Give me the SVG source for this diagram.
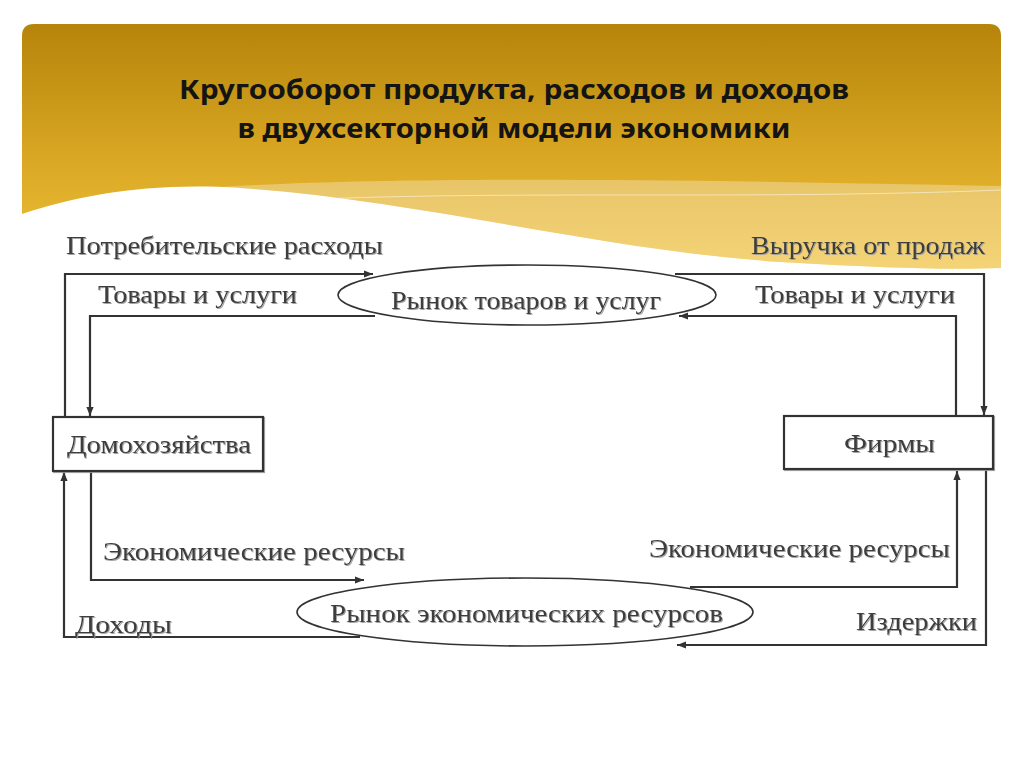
<svg xmlns="http://www.w3.org/2000/svg" width="1024" height="767" viewBox="0 0 1024 767">
<defs>
<linearGradient id="gold" x1="0" y1="0" x2="0" y2="1">
<stop offset="0" stop-color="#b5840a"/>
<stop offset="0.5" stop-color="#d8a622"/>
<stop offset="1" stop-color="#f2c43e"/>
</linearGradient>
<filter id="sh" x="-5%" y="-20%" width="110%" height="140%">
<feDropShadow dx="1" dy="1" stdDeviation="0.6" flood-color="#999" flood-opacity="0.9"/>
</filter>
<marker id="ah" viewBox="0 0 10 10" refX="10" refY="5" markerWidth="9" markerHeight="9" markerUnits="userSpaceOnUse" orient="auto">
<path d="M0,1 L10,5 L0,9 Z" fill="#333"/>
</marker>
<style>
.title{font-family:"Noto Sans","Open Sans",sans-serif;font-weight:bold;font-size:26px;fill:#141414;text-anchor:middle}
.lbl{font-family:"Liberation Serif","Times New Roman",serif;font-size:26px;fill:#3c3c3c;filter:url(#sh)}
.box{fill:#fff;stroke:#333;stroke-width:2.2;filter:url(#sh)}
.ell{fill:#fff;stroke:#333;stroke-width:1.6}
.ln{fill:none;stroke:#333;stroke-width:2.2}
</style>
</defs>
<rect x="0" y="0" width="1024" height="767" fill="#fff"/>
<path d="M22,36 Q22,24 34,24 L989,24 Q1001,24 1001,36 L1001,280 L22,280 Z" fill="url(#gold)"/>
<path d="M180,190 C350,176 620,178 1001,186 L1001,268 C950,270 880,268 780,262 C600,250 420,200 240,188 Z" fill="#fff" opacity="0.3"/>
<path d="M300,200 C500,190 760,200 1001,190" fill="none" stroke="#fff" stroke-width="1" opacity="0.5"/>
<path d="M22,214 C80,195 150,182 240,188 C420,200 600,250 780,262 C880,268 950,270 1001,268 L1001,767 L22,767 Z" fill="#fff"/>
<g id="title">
<text class="title" x="514" y="99" textLength="670" lengthAdjust="spacingAndGlyphs">Кругооборот продукта, расходов и доходов</text>
<text class="title" x="514" y="138" textLength="553" lengthAdjust="spacingAndGlyphs">в двухсекторной модели экономики</text>
</g>
<g id="connectors">
<polyline class="ln" points="65,417 65,274 373,274" marker-end="url(#ah)"/>
<polyline class="ln" points="375,316 90,316 90,416" marker-end="url(#ah)"/>
<polyline class="ln" points="675,274 984,274 984,415" marker-end="url(#ah)"/>
<polyline class="ln" points="956,416 956,316 679,316" marker-end="url(#ah)"/>
<polyline class="ln" points="91,471 91,580 364,580" marker-end="url(#ah)"/>
<polyline class="ln" points="360,637 64,637 64,472" marker-end="url(#ah)"/>
<polyline class="ln" points="690,587 957,587 957,471" marker-end="url(#ah)"/>
<polyline class="ln" points="986,470 986,645 677,645" marker-end="url(#ah)"/>
</g>
<g id="labels">
<text class="lbl" x="66" y="254" textLength="317" lengthAdjust="spacingAndGlyphs">Потребительские расходы</text>
<text class="lbl" x="751" y="254" textLength="234" lengthAdjust="spacingAndGlyphs">Выручка от продаж</text>
<text class="lbl" x="98" y="303" textLength="199" lengthAdjust="spacingAndGlyphs">Товары и услуги</text>
<text class="lbl" x="755" y="303" textLength="200" lengthAdjust="spacingAndGlyphs">Товары и услуги</text>
<text class="lbl" x="103" y="560" textLength="302" lengthAdjust="spacingAndGlyphs">Экономические ресурсы</text>
<text class="lbl" x="649" y="557" textLength="301" lengthAdjust="spacingAndGlyphs">Экономические ресурсы</text>
<text class="lbl" x="75" y="633" textLength="97" lengthAdjust="spacingAndGlyphs">Доходы</text>
<text class="lbl" x="856" y="630" textLength="121" lengthAdjust="spacingAndGlyphs">Издержки</text>
</g>
<g id="market-goods">
<ellipse class="ell" cx="527" cy="295" rx="189" ry="30"/>
<text class="lbl" x="391" y="309" textLength="270" lengthAdjust="spacingAndGlyphs">Рынок товаров и услуг</text>
</g>
<g id="market-resources">
<ellipse class="ell" cx="525" cy="612" rx="228" ry="34"/>
<text class="lbl" x="330" y="622" textLength="393" lengthAdjust="spacingAndGlyphs">Рынок экономических ресурсов</text>
</g>
<g id="households">
<rect class="box" x="53" y="417" width="210" height="54"/>
<text class="lbl" x="67" y="453" textLength="184" lengthAdjust="spacingAndGlyphs">Домохозяйства</text>
</g>
<g id="firms">
<rect class="box" x="784" y="416" width="209" height="53"/>
<text class="lbl" x="844" y="452" textLength="91" lengthAdjust="spacingAndGlyphs">Фирмы</text>
</g>
</svg>
